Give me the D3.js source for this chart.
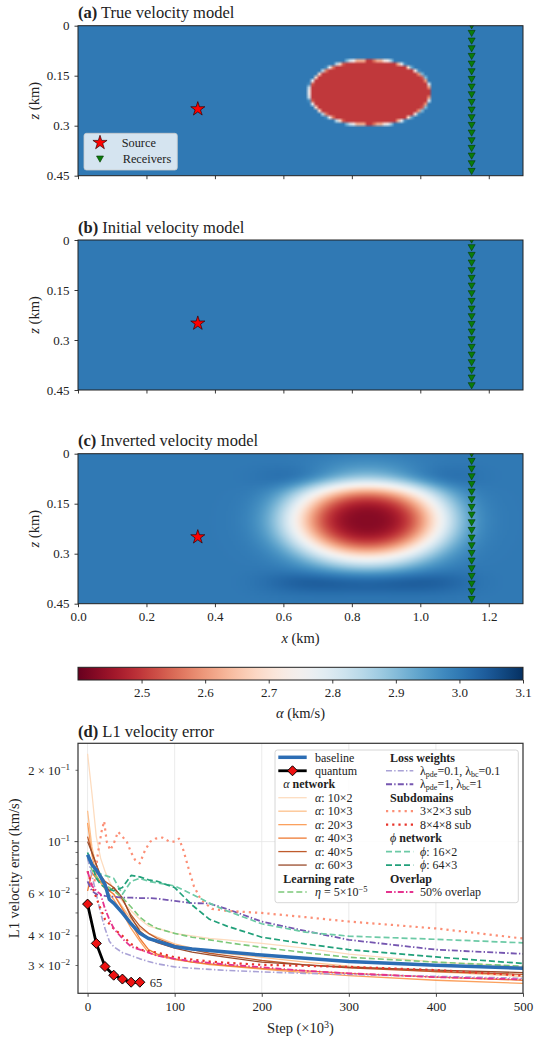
<!DOCTYPE html>
<html>
<head>
<meta charset="utf-8">
<script src="https://cdn.jsdelivr.net/npm/d3@7"></script>
<style>
  body { margin: 0; background: #fff; }
  text { font-family: "Liberation Serif", "DejaVu Serif", serif; fill: #222; }
</style>
</head>
<body>
<div id="fig"></div>
<script>
// ---------- data: velocity models ----------
const xTicks = [0, 0.2, 0.4, 0.6, 0.8, 1.0, 1.2]
const zTicks = [0, 0.15, 0.3, 0.45]
const zTickLabels = ['0', '0.15', '0.3', '0.45']
const cbarTicks = [2.5, 2.6, 2.7, 2.8, 2.9, 3.0, 3.1]
const vRange = [2.4, 3.1]
const vBackground = 3.0
const vAnomaly = 2.5
const anomalyCenter = [0.852, 0.2]
const anomalyRadii = [0.178, 0.099]
const invertedMin = 2.43
const invertedCenter = [0.845, 0.2]
const invertedRadii = [0.228, 0.124]
const sideLobeZ = [0.075, 0.385]
const sideLobeDv = [0.055, 0.05]
const source = [0.35, 0.25]
const receiverX = 1.15
const receiverZ = [0, 0.023, 0.046, 0.069, 0.092, 0.115, 0.138, 0.161, 0.184, 0.207,
  0.230, 0.253, 0.276, 0.299, 0.322, 0.345, 0.368, 0.391, 0.414, 0.437]

// ---------- data: L1 velocity error ----------
const steps = [0, 5, 10, 15, 20, 25, 30, 40, 50, 60, 70, 80, 100, 120, 140, 160, 200, 250, 300, 400, 500]
const baseline = [0.088, 0.080, 0.076, 0.071, 0.066, 0.057, 0.055, 0.050, 0.045, 0.041, 0.039, 0.038, 0.036, 0.0352, 0.0347, 0.0342, 0.0332, 0.0322, 0.0312, 0.0301, 0.0292]
const alpha10x2 = [0.235, 0.16, 0.105, 0.085, 0.075, 0.068, 0.063, 0.056, 0.051, 0.047, 0.044, 0.043, 0.041, 0.040, 0.039, 0.0385, 0.0372, 0.0355, 0.0335, 0.031, 0.0297]
const alpha10x3 = [0.135, 0.095, 0.078, 0.070, 0.066, 0.062, 0.060, 0.053, 0.047, 0.043, 0.041, 0.0395, 0.037, 0.0355, 0.0345, 0.0337, 0.0325, 0.031, 0.0298, 0.0282, 0.027]
const alpha20x3 = [0.12, 0.088, 0.072, 0.067, 0.063, 0.060, 0.057, 0.050, 0.043, 0.038, 0.034, 0.033, 0.0318, 0.031, 0.0303, 0.0298, 0.029, 0.028, 0.0272, 0.026, 0.0252]
const alpha40x3 = [0.062, 0.074, 0.070, 0.068, 0.065, 0.062, 0.060, 0.052, 0.045, 0.039, 0.035, 0.0335, 0.032, 0.031, 0.0305, 0.030, 0.0292, 0.0285, 0.0278, 0.0268, 0.026]
const alpha40x5 = [0.105, 0.090, 0.080, 0.072, 0.068, 0.066, 0.064, 0.057, 0.049, 0.044, 0.041, 0.039, 0.0365, 0.035, 0.0338, 0.033, 0.0315, 0.0302, 0.0293, 0.0283, 0.0275]
const alpha60x3 = [0.100, 0.090, 0.080, 0.070, 0.066, 0.062, 0.064, 0.058, 0.048, 0.042, 0.039, 0.0375, 0.0355, 0.0342, 0.0333, 0.0325, 0.031, 0.0302, 0.0295, 0.0287, 0.028]
const eta5e5 = [0.085, 0.076, 0.071, 0.068, 0.066, 0.064, 0.062, 0.058, 0.053, 0.048, 0.045, 0.043, 0.041, 0.0395, 0.0385, 0.0375, 0.0358, 0.034, 0.0325, 0.031, 0.0298]
const lambda01 = [0.085, 0.072, 0.060, 0.050, 0.043, 0.038, 0.036, 0.034, 0.033, 0.032, 0.0312, 0.0305, 0.0296, 0.0292, 0.0289, 0.0286, 0.0282, 0.0278, 0.0275, 0.027, 0.0265]
const lambda1 = [0.068, 0.062, 0.060, 0.0595, 0.059, 0.0588, 0.0585, 0.058, 0.058, 0.0578, 0.0578, 0.0575, 0.0562, 0.055, 0.0548, 0.052, 0.046, 0.042, 0.0385, 0.035, 0.0336]
const sub848 = [0.075, 0.065, 0.058, 0.052, 0.047, 0.045, 0.043, 0.040, 0.037, 0.035, 0.0345, 0.034, 0.0325, 0.0318, 0.0312, 0.0308, 0.0302, 0.0299, 0.0296, 0.0287, 0.0272]
const phi16x2 = [0.087, 0.080, 0.075, 0.073, 0.072, 0.071, 0.070, 0.060, 0.068, 0.070, 0.068, 0.067, 0.065, 0.060, 0.055, 0.051, 0.045, 0.0415, 0.0399, 0.0387, 0.0374]
const phi64x3 = [0.090, 0.080, 0.070, 0.066, 0.064, 0.063, 0.062, 0.064, 0.072, 0.071, 0.069, 0.068, 0.064, 0.054, 0.047, 0.044, 0.0395, 0.037, 0.035, 0.0326, 0.0306]
const overlap50 = [0.075, 0.065, 0.062, 0.060, 0.052, 0.047, 0.043, 0.039, 0.036, 0.035, 0.034, 0.033, 0.032, 0.0313, 0.0308, 0.0303, 0.0295, 0.0285, 0.0278, 0.0268, 0.0262]
const sub323Steps = [8, 12, 16, 19, 22, 26, 30, 35, 40, 45, 50, 55, 60, 66, 72, 78, 86, 94, 100, 105, 110, 116, 122, 130, 143, 160, 200, 250, 300, 350, 400, 450, 500]
const sub323 = [0.068, 0.09, 0.11, 0.122, 0.1, 0.092, 0.098, 0.11, 0.105, 0.1, 0.09, 0.083, 0.081, 0.092, 0.1, 0.103, 0.104, 0.1, 0.1, 0.103, 0.092, 0.077, 0.065, 0.057, 0.052, 0.051, 0.05, 0.048, 0.046, 0.0445, 0.043, 0.041, 0.039]
const quantumSteps = [0, 10, 20, 30, 40, 50, 60]
const quantum = [0.0545, 0.0372, 0.0297, 0.0273, 0.0263, 0.0255, 0.0255]
const stepTicks = [0, 100, 200, 300, 400, 500]

// ---------- figure ----------
const W = 539, H = 1043
const svg = d3.select('#fig').append('svg').attr('width', W).attr('height', H)
const color = d3.scaleSequential(d3.interpolateRdBu).domain(vRange)
const x = d3.scaleLinear().domain([0, 1.3]).range([78, 523])
const panelH = 150
const starPath = d3.symbol(d3.symbolStar, 62)()
const triPath = 'M-3.5,-3L3.5,-3L0,3.2Z'

function trueField(xk, zk) {
  const dx = (xk - anomalyCenter[0]) / anomalyRadii[0]
  const dz = (zk - anomalyCenter[1]) / anomalyRadii[1]
  return dx * dx + dz * dz <= 1 ? vAnomaly : vBackground
}
function initialField() { return vBackground }
function invertedField(xk, zk) {
  const dx = (xk - invertedCenter[0]) / invertedRadii[0]
  const dz = (zk - invertedCenter[1]) / invertedRadii[1]
  let v = vBackground - (vBackground - invertedMin) * Math.exp(-Math.pow(dx * dx + dz * dz, 1.43))
  const lx = Math.exp(-Math.pow((xk - invertedCenter[0]) / 0.28, 4))
  v += sideLobeDv[0] * lx * Math.exp(-Math.pow((zk - sideLobeZ[0]) / 0.035, 2))
  v += sideLobeDv[1] * lx * Math.exp(-Math.pow((zk - sideLobeZ[1]) / 0.035, 2))
  return v
}

function titleText(sel, xx, yy, letter, rest, size) {
  const t = sel.append('text').attr('x', xx).attr('y', yy).style('font-size', size + 'px')
  t.append('tspan').style('font-weight', 'bold').text(letter)
  t.append('tspan').text(' ' + rest)
}

function velocityPanel(top, letter, title, field, nx, nz, showX, id) {
  const z = d3.scaleLinear().domain([0, 0.45]).range([top, top + panelH])
  const g = svg.append('g')

  // field image, sampled per cell and drawn through the scales
  const canvas = document.createElement('canvas')
  canvas.width = nx; canvas.height = nz
  const ctx = canvas.getContext('2d')
  const img = ctx.createImageData(nx, nz)
  const ss = 4
  for (let j = 0; j < nz; j++) {
    for (let i = 0; i < nx; i++) {
      let sum = 0
      for (let a = 0; a < ss; a++) for (let b = 0; b < ss; b++) {
        sum += field((i + (a + 0.5) / ss) * 1.3 / nx, (j + (b + 0.5) / ss) * 0.45 / nz)
      }
      const c = d3.rgb(color(sum / (ss * ss)))
      const k = (j * nx + i) * 4
      img.data[k] = c.r; img.data[k + 1] = c.g; img.data[k + 2] = c.b; img.data[k + 3] = 255
    }
  }
  ctx.putImageData(img, 0, 0)
  g.append('image')
    .attr('href', canvas.toDataURL())
    .attr('x', x(0)).attr('y', z(0))
    .attr('width', x(1.3) - x(0)).attr('height', z(0.45) - z(0))
    .attr('preserveAspectRatio', 'none')

  g.append('clipPath').attr('id', 'clip' + id)
    .append('rect').attr('x', x(0)).attr('y', z(0))
    .attr('width', x(1.3) - x(0)).attr('height', z(0.45) - z(0))

  const marks = g.append('g').attr('clip-path', `url(#clip${id})`)
  marks.selectAll('path.rec')
    .data(receiverZ)
    .join('path')
    .attr('class', 'rec')
    .attr('d', triPath)
    .attr('transform', d => `translate(${x(receiverX)},${z(d)})`)
    .attr('fill', '#0a7d0a')
    .attr('stroke', '#063806')
    .attr('stroke-width', 0.6)
  marks.append('path')
    .attr('d', starPath)
    .attr('transform', `translate(${x(source[0])},${z(source[1])})`)
    .attr('fill', '#ff0000')
    .attr('stroke', '#330000')
    .attr('stroke-width', 0.7)

  // axes
  const xAxis = g.append('g')
    .attr('transform', `translate(0,${z(0.45)})`)
    .call(d3.axisBottom(x).tickValues(xTicks).tickSize(3.5).tickPadding(5)
      .tickFormat(showX ? d3.format('.1f') : () => ''))
  const zAxis = g.append('g')
    .attr('transform', `translate(${x(0)},0)`)
    .call(d3.axisLeft(z).tickValues(zTicks).tickSize(3.5).tickPadding(5)
      .tickFormat((d, i) => zTickLabels[i]))
  ;[xAxis, zAxis].forEach(a => {
    a.select('.domain').remove()
    a.selectAll('line').attr('stroke', '#222').attr('stroke-width', 0.9)
    a.selectAll('text').style('font-size', '13px').style('font-family', '"Liberation Serif", serif').attr('fill', '#222')
  })
  g.append('rect')
    .attr('x', x(0)).attr('y', z(0))
    .attr('width', x(1.3) - x(0)).attr('height', z(0.45) - z(0))
    .attr('fill', 'none').attr('stroke', '#222').attr('stroke-width', 1)

  titleText(g, 78, top - 7.5, `(${letter})`, title, 16.5)

  const zl = g.append('text')
    .attr('transform', `translate(39,${top + panelH / 2}) rotate(-90)`)
    .attr('text-anchor', 'middle')
    .style('font-size', '14.5px')
  zl.append('tspan').style('font-style', 'italic').text('z')
  zl.append('tspan').text(' (km)')

  if (showX) {
    const xl = g.append('text')
      .attr('x', (x(0) + x(1.3)) / 2).attr('y', top + panelH + 39.5)
      .attr('text-anchor', 'middle')
      .style('font-size', '14.5px')
    xl.append('tspan').style('font-style', 'italic').text('x')
    xl.append('tspan').text(' (km)')
  }
  return { g, z }
}

const pa = velocityPanel(25.7, 'a', 'True velocity model', trueField, 130, 45, false, 'a')
velocityPanel(240, 'b', 'Initial velocity model', initialField, 130, 45, false, 'b')
velocityPanel(453.7, 'c', 'Inverted velocity model', invertedField, 260, 90, true, 'c')

// legend in panel (a)
const la = pa.g.append('g')
la.append('rect').attr('x', 84).attr('y', 133.3).attr('width', 93.3).attr('height', 36.7)
  .attr('rx', 2.5).attr('fill', 'rgba(255,255,255,0.8)').attr('stroke', '#cccccc').attr('stroke-width', 0.8)
la.append('path').attr('d', starPath).attr('transform', 'translate(100,142.7)')
  .attr('fill', '#ff0000').attr('stroke', '#330000').attr('stroke-width', 0.7)
la.append('path').attr('d', triPath).attr('transform', 'translate(100,159)')
  .attr('fill', '#0a7d0a').attr('stroke', '#063806').attr('stroke-width', 0.6)
la.append('text').attr('x', 121.7).attr('y', 146.9).style('font-size', '12.3px').text('Source')
la.append('text').attr('x', 122.7).attr('y', 163.2).style('font-size', '12.3px').text('Receivers')

// ---------- colorbar ----------
const cb = d3.scaleLinear().domain(vRange).range([78, 523])
const grad = svg.append('defs').append('linearGradient').attr('id', 'cbgrad')
d3.range(0, 1.0001, 0.02).forEach(t => {
  grad.append('stop').attr('offset', t).attr('stop-color', color(vRange[0] + t * (vRange[1] - vRange[0])))
})
svg.append('rect').attr('x', 78).attr('y', 667.3).attr('width', 445).attr('height', 12.7)
  .attr('fill', 'url(#cbgrad)').attr('stroke', '#222').attr('stroke-width', 1)
const cbAxis = svg.append('g').attr('transform', 'translate(0,680)')
  .call(d3.axisBottom(cb).tickValues(cbarTicks).tickSize(3.5).tickPadding(4).tickFormat(d3.format('.1f')))
cbAxis.select('.domain').remove()
cbAxis.selectAll('line').attr('stroke', '#222').attr('stroke-width', 0.9)
cbAxis.selectAll('text').style('font-size', '13px').style('font-family', '"Liberation Serif", serif').attr('fill', '#222')
const cbl = svg.append('text').attr('x', 300.5).attr('y', 718).attr('text-anchor', 'middle').style('font-size', '14.5px')
cbl.append('tspan').style('font-style', 'italic').text('α')
cbl.append('tspan').text(' (km/s)')

// ---------- panel (d) ----------
const sx = d3.scaleLinear().domain([-11, 500]).range([78, 523])
const sy = d3.scaleLog().domain([0.0229, 0.26]).range([993.3, 743.3])
const gd = svg.append('g')

// grid
gd.selectAll('line.vg').data(stepTicks).join('line')
  .attr('x1', d => sx(d)).attr('x2', d => sx(d)).attr('y1', 743.3).attr('y2', 993.3)
  .attr('stroke', '#e6e6e6').attr('stroke-width', 0.8)
gd.append('line').attr('x1', 78).attr('x2', 523).attr('y1', sy(0.1)).attr('y2', sy(0.1))
  .attr('stroke', '#e6e6e6').attr('stroke-width', 0.8)

gd.append('clipPath').attr('id', 'clipd').append('rect')
  .attr('x', 78).attr('y', 743.3).attr('width', 445).attr('height', 250)

const series = [
  { v: alpha10x2, c: '#fddcbf', w: 1.3, dash: null },
  { v: alpha10x3, c: '#fdc08c', w: 1.3, dash: null },
  { v: alpha20x3, c: '#fba15e', w: 1.3, dash: null },
  { v: alpha40x3, c: '#ef7b35', w: 1.3, dash: null },
  { v: alpha40x5, c: '#bf5b2c', w: 1.3, dash: null },
  { v: alpha60x3, c: '#9a4b2b', w: 1.3, dash: null },
  { v: eta5e5, c: '#7cc87a', w: 1.6, dash: '6,3' },
  { v: lambda01, c: '#a9a2d6', w: 1.6, dash: '6,2.2,1.4,2.2' },
  { v: lambda1, c: '#7556b0', w: 1.8, dash: '6,2.2,1.4,2.2' },
  { s: sub323Steps, v: sub323, c: '#fc8f76', w: 2.2, dash: '2.2,4' },
  { v: sub848, c: '#e8332a', w: 2.2, dash: '2.2,4' },
  { v: phi16x2, c: '#6ccaa6', w: 1.7, dash: '6,3' },
  { v: phi64x3, c: '#21a07a', w: 1.7, dash: '6,3' },
  { v: overlap50, c: '#e5338f', w: 1.8, dash: '6,2.2,1.4,2.2' },
  { v: baseline, c: '#2c6db4', w: 3.5, dash: null }
]
const line = d3.line().x(d => sx(d[0])).y(d => sy(d[1]))
const lines = gd.append('g').attr('clip-path', 'url(#clipd)')
series.forEach(s => {
  const st = s.s || steps
  lines.append('path')
    .datum(st.map((d, i) => [d, s.v[i]]))
    .attr('d', line)
    .attr('fill', 'none')
    .attr('stroke', s.c)
    .attr('stroke-width', s.w)
    .attr('stroke-dasharray', s.dash)
    .attr('stroke-linejoin', 'round')
})
lines.append('path')
  .datum(quantumSteps.map((d, i) => [d, quantum[i]]))
  .attr('d', line).attr('fill', 'none').attr('stroke', '#000').attr('stroke-width', 2.8)
const diamond = 'M0,-5L5,0L0,5L-5,0Z'
lines.selectAll('path.q').data(quantumSteps.map((d, i) => [d, quantum[i]])).join('path')
  .attr('class', 'q').attr('d', diamond)
  .attr('transform', d => `translate(${sx(d[0])},${sy(d[1])})`)
  .attr('fill', '#ee1111').attr('stroke', '#000').attr('stroke-width', 1)
gd.append('text')
  .attr('x', sx(quantumSteps[quantumSteps.length - 1]) + 10)
  .attr('y', sy(quantum[quantum.length - 1]) + 4.3)
  .style('font-size', '12.5px').text('65')

// axes
const dx = gd.append('g').attr('transform', 'translate(0,993.3)')
  .call(d3.axisBottom(sx).tickValues(stepTicks).tickSize(3.5).tickPadding(4.5).tickFormat(d3.format('d')))
dx.select('.domain').remove()
dx.selectAll('line').attr('stroke', '#333').attr('stroke-width', 0.9)
dx.selectAll('text').style('font-size', '13px').style('font-family', '"Liberation Serif", serif').attr('fill', '#222')

const yMinor = [0.03, 0.04, 0.05, 0.06, 0.07, 0.08, 0.09, 0.2]
gd.selectAll('line.ymin').data(yMinor).join('line')
  .attr('x1', 78).attr('x2', 75.5).attr('y1', d => sy(d)).attr('y2', d => sy(d))
  .attr('stroke', '#333').attr('stroke-width', 0.7)
gd.append('line').attr('x1', 78).attr('x2', 74.5).attr('y1', sy(0.1)).attr('y2', sy(0.1))
  .attr('stroke', '#333').attr('stroke-width', 0.9)
const yLabels = [[0.2, '2', '−1'], [0.1, null, '−1'], [0.06, '6', '−2'], [0.04, '4', '−2'], [0.03, '3', '−2']]
yLabels.forEach(([v, m, e]) => {
  const t = gd.append('text').attr('x', 70).attr('y', sy(v) + 4.3)
    .attr('text-anchor', 'end').style('font-size', '12.5px')
  t.append('tspan').text(m ? m + ' × 10' : '10')
  t.append('tspan').attr('dy', -5).style('font-size', '9px').text(e)
})

gd.append('rect').attr('x', 78).attr('y', 743.3).attr('width', 445).attr('height', 250)
  .attr('fill', 'none').attr('stroke', '#333').attr('stroke-width', 1.2)

titleText(gd, 78, 737, '(d)', 'L1 velocity error', 16.5)
gd.append('text').attr('transform', 'translate(19,868.3) rotate(-90)')
  .attr('text-anchor', 'middle').style('font-size', '14.5px').text('L1 velocity error (km/s)')
const xlab = gd.append('text').attr('x', 300.5).attr('y', 1033).attr('text-anchor', 'middle').style('font-size', '14.5px')
xlab.append('tspan').text('Step (×10')
xlab.append('tspan').attr('dy', -5.5).style('font-size', '10px').text('3')
xlab.append('tspan').attr('dy', 5.5).text(')')

// ---------- legend (d) ----------
const legendLeft = [
  { label: 'baseline', c: '#2c6db4', w: 3.5 },
  { label: 'quantum', c: '#000', w: 2.8, marker: true },
  { header: ['α', ' network'] },
  { label: 'α: 10×2', c: '#fddcbf', w: 1.3 },
  { label: 'α: 10×3', c: '#fdc08c', w: 1.3 },
  { label: 'α: 20×3', c: '#fba15e', w: 1.3 },
  { label: 'α: 40×3', c: '#ef7b35', w: 1.3 },
  { label: 'α: 40×5', c: '#bf5b2c', w: 1.3 },
  { label: 'α: 60×3', c: '#9a4b2b', w: 1.3 },
  { header: [null, 'Learning rate'] },
  { label: 'eta', c: '#7cc87a', w: 1.6, dash: '6,3' }
]
const legendRight = [
  { header: [null, 'Loss weights'] },
  { label: 'lam', val: '0.1', c: '#a9a2d6', w: 1.6, dash: '6,2.2,1.4,2.2' },
  { label: 'lam', val: '1', c: '#7556b0', w: 1.8, dash: '6,2.2,1.4,2.2' },
  { header: [null, 'Subdomains'] },
  { label: '3×2×3 sub', c: '#fc8f76', w: 2.2, dash: '2.2,4' },
  { label: '8×4×8 sub', c: '#e8332a', w: 2.2, dash: '2.2,4' },
  { header: ['ϕ', ' network'] },
  { label: 'ϕ: 16×2', c: '#6ccaa6', w: 1.7, dash: '6,3' },
  { label: 'ϕ: 64×3', c: '#21a07a', w: 1.7, dash: '6,3' },
  { header: [null, 'Overlap'] },
  { label: '50% overlap', c: '#e5338f', w: 1.8, dash: '6,2.2,1.4,2.2' }
]
const lg = gd.append('g')
lg.append('rect').attr('x', 275).attr('y', 750).attr('width', 243.3).attr('height', 152.7)
  .attr('rx', 2.5).attr('fill', 'rgba(255,255,255,0.85)').attr('stroke', '#cccccc').attr('stroke-width', 0.8)

function legendColumn(items, hx0, hx1, tx, headX) {
  items.forEach((it, i) => {
    const yy = 757.3 + i * 13.47
    if (it.header) {
      const t = lg.append('text').attr('x', headX).attr('y', yy + 4.2).style('font-size', '12px')
      if (it.header[0]) t.append('tspan').style('font-style', 'italic').text(it.header[0])
      t.append('tspan').style('font-weight', 'bold').text(it.header[1])
      return
    }
    lg.append('line').attr('x1', hx0).attr('x2', hx1).attr('y1', yy).attr('y2', yy)
      .attr('stroke', it.c).attr('stroke-width', it.w).attr('stroke-dasharray', it.dash || null)
    if (it.marker) {
      lg.append('path').attr('d', diamond).attr('transform', `translate(${(hx0 + hx1) / 2},${yy})`)
        .attr('fill', '#ee1111').attr('stroke', '#000').attr('stroke-width', 1)
    }
    const t = lg.append('text').attr('x', tx).attr('y', yy + 4.2).style('font-size', '12px')
    if (it.label === 'eta') {
      t.append('tspan').style('font-style', 'italic').text('η')
      t.append('tspan').text(' = 5×10')
      t.append('tspan').attr('dy', -4.5).style('font-size', '8.5px').text('−5')
    } else if (it.label === 'lam') {
      ;[['pde', it.val + ', '], ['bc', it.val]].forEach(([sub, v]) => {
        t.append('tspan').text('λ')
        t.append('tspan').attr('dy', 2).style('font-size', '8px').text(sub)
        t.append('tspan').attr('dy', -2).text('=' + v)
      })
    } else if (it.label[1] === ':') {
      t.append('tspan').style('font-style', 'italic').text(it.label[0])
      t.append('tspan').text(it.label.slice(1))
    } else {
      t.text(it.label)
    }
  })
}
legendColumn(legendLeft, 278.3, 306.7, 315, 283.3)
legendColumn(legendRight, 386, 413.3, 420, 390)
</script>
</body>
</html>
